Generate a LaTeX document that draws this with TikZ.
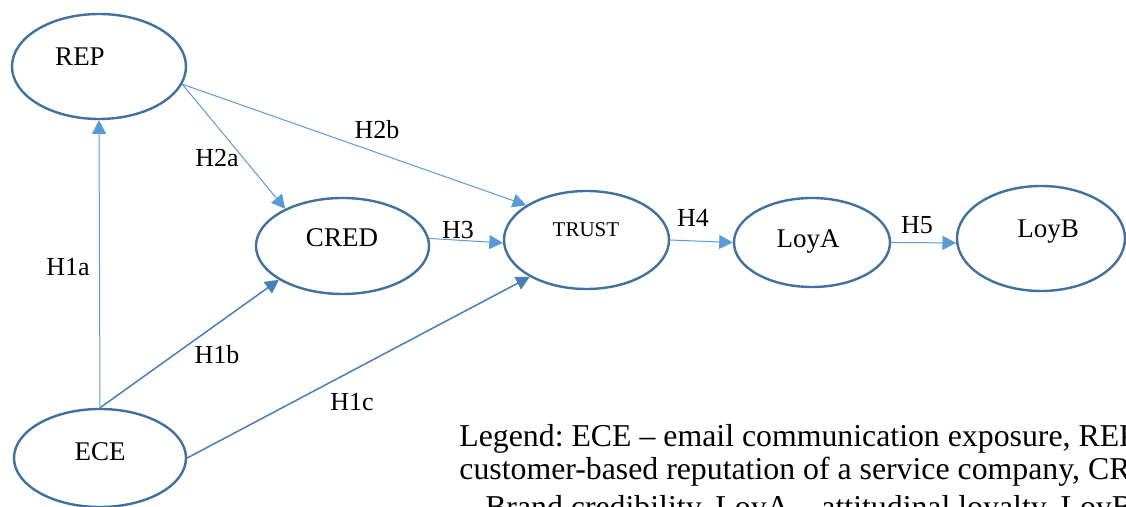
\documentclass[tikz,border=0pt]{standalone}
\usepackage{fontspec}
\setmainfont{Liberation Serif}
\usepackage{tikz}
\usetikzlibrary{arrows.meta,shapes.geometric}

\definecolor{lineblue}{HTML}{41719C}
\definecolor{arrowblue}{HTML}{5B9BD5}
\definecolor{darkarrow}{HTML}{4A7EBB}

\begin{document}
\begin{tikzpicture}[
    x=0.5pt, y=-0.5pt,
    >={Triangle[length=6.8pt,width=7pt]},
    construct/.style={ellipse, draw=lineblue, line width=1.2pt, inner sep=0pt},
    cname/.style={font=\fontsize{13.5}{15}\selectfont, inner sep=0pt},
    hyp/.style={font=\fontsize{13}{15}\selectfont, inner sep=0pt},
    link/.style={->, draw=arrowblue, line width=0.5pt},
    strong/.style={->, draw=darkarrow, line width=0.75pt},
    legend/.style={anchor=base west, font=\fontsize{15.9}{18}\selectfont\frenchspacing, inner sep=0pt}
]
\clip (0,0) rectangle (1126,507);
% constructs
\node[construct, minimum width=87pt, minimum height=52.5pt] (rep) at (99,66.5) {};
\node[construct, minimum width=86.5pt, minimum height=48pt] (cred) at (342.5,246) {};
\node[construct, minimum width=82.5pt, minimum height=49pt] (trust) at (586.5,240) {};
\node[construct, minimum width=78pt, minimum height=44.5pt] (loya) at (812,242.5) {};
\node[construct, minimum width=84pt, minimum height=52.5pt] (loyb) at (1041,238.5) {};
\node[construct, minimum width=86pt, minimum height=49pt] (ece) at (100,458) {};
\node[cname] (repL) at (80,57) {REP};
\node[cname] (credL) at (342,238) {CRED};
\node[cname, font=\fontsize{10.5}{12}\selectfont] (trustL) at (586,230) {TRUST};
\node[cname] (loyaL) at (808,242) {LoyA};
\node[cname] (loybL) at (1048,232) {LoyB};
\node[cname] (eceL) at (100,452) {ECE};
% paths
\draw[link] (ece.north) -- (rep.south);
\draw[strong] (ece.north) -- (cred.208);
\draw[strong] (ece.east) -- (trust.213);
\draw[link] (rep.-12) -- (cred.147);
\draw[link] (rep.-12) -- (trust.150);
\draw[link] (cred.5) -- (trust.182);
\draw[link] (trust.east) -- (loya.west);
\draw[link] (loya.east) -- (loyb.183);
% hypotheses
\node[hyp] (h1a) at (68,267) {H1a};
\node[hyp] (h1b) at (217,355) {H1b};
\node[hyp] (h1c) at (352,402) {H1c};
\node[hyp] (h2a) at (217,158) {H2a};
\node[hyp] (h2b) at (377,130) {H2b};
\node[hyp] (h3) at (458,230) {H3};
\node[hyp] (h4) at (693,218) {H4};
\node[hyp] (h5) at (917,225) {H5};
% legend
\node[legend] (leg1) at (459,447) {Legend: ECE -- email communication exposure, REP};
\node[legend] (leg2) at (459,480) {customer-based reputation of a service company, CRED};
\node[legend] (leg3) at (461,518) {-- Brand credibility, LoyA -- attitudinal loyalty, LoyB};
\end{tikzpicture}
\end{document}
